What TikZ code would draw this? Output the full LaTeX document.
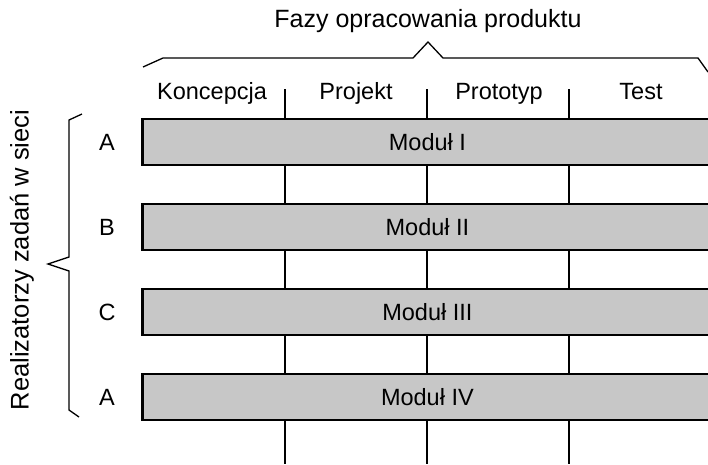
\documentclass[tikz,border=0pt]{standalone}
\usepackage{fontspec}
\setmainfont{Liberation Sans}
\begin{document}
\begin{tikzpicture}[x=1pt,y=-1pt,
  every node/.style={font=\fontsize{23.5}{28}\selectfont, inner sep=0pt},
  bigtext/.style={font=\fontsize{25}{30}\selectfont},
  modbar/.style={draw=black, line width=2.8pt, fill=black!22,
    minimum width=574pt, minimum height=46pt, anchor=west},
  divider/.style={draw=black, line width=2pt},
  bracket/.style={draw=black, line width=1.3pt, line join=miter},
  who/.style={anchor=center}]
\clip (0,0) rectangle (708,464);

% title and the bracket spanning the four phases
\node[anchor=base, bigtext] (title) at (428,27) {Fazy opracowania produktu};
\coordinate (bl) at (143,67);
\coordinate (br) at (708,72);
\draw[bracket] (bl) -- (163,58) -- (413,58) -- (428,42) -- (443,58) -- (698,58) -- (br);

% phase names
\node[anchor=base] (p1) at (212,99) {Koncepcja};
\node[anchor=base] (p2) at (356,99) {Projekt};
\node[anchor=base] (p3) at (499,99) {Prototyp};
\node[anchor=base] (p4) at (641,99) {Test};

% module bars
\node[modbar] (m1) at (141,142) {\hspace*{-4pt}Moduł I};
\node[modbar] (m2) at (141,227) {\hspace*{-4pt}Moduł II};
\node[modbar] (m3) at (141,312) {\hspace*{-4pt}Moduł III};
\node[modbar] (m4) at (141,397) {\hspace*{-4pt}Moduł IV};

% phase boundaries
\coordinate (d1) at (285,89);
\coordinate (d2) at (427,89);
\coordinate (d3) at (569,89);
\coordinate (e1) at (285,464);
\coordinate (e2) at (427,464);
\coordinate (e3) at (569,464);
\foreach \d/\e in {d1/e1,d2/e2,d3/e3}{
  \draw[divider] (\d) -- (m1.north -| \d);
  \draw[divider] (m1.south -| \d) -- (m2.north -| \d);
  \draw[divider] (m2.south -| \d) -- (m3.north -| \d);
  \draw[divider] (m3.south -| \d) -- (m4.north -| \d);
  \draw[divider] (m4.south -| \d) -- (\e);
}

% task performers
\node[who] (wa) at (107,142) {A};
\node[who] (wb) at (107,227) {B};
\node[who] (wc) at (107,312) {C};
\node[who] (wd) at (107,397) {A};

% brace grouping the performers
\coordinate (tb) at (82,114);
\coordinate (te) at (79,417);
\draw[bracket] (tb) -- (69,120) -- (69,257) -- (48,264) -- (69,271) -- (69,410) -- (te);
\node[rotate=90, font=\fontsize{25.5}{30}\selectfont] (side) at (22,260) {Realizatorzy zadań w sieci};
\end{tikzpicture}
\end{document}
